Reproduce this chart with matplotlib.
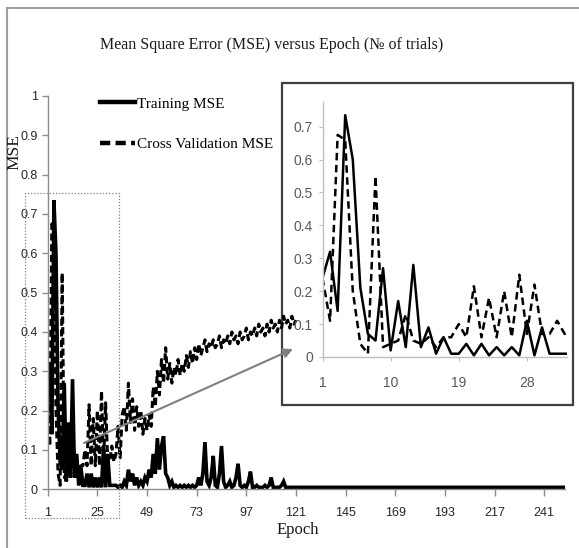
import numpy as np
import matplotlib
matplotlib.use('Agg')
import matplotlib.pyplot as plt
from matplotlib.patches import Rectangle, FancyArrowPatch
from matplotlib.lines import Line2D

# ---------------- data ----------------
title = "Mean Square Error (MSE) versus Epoch (\u2116 of trials)"
series_names = ["Training MSE", "Cross Validation MSE"]
x_tick_labels = ["1", "25", "49", "73", "97", "121", "145", "169", "193", "217", "241"]
y_tick_labels = ["0", "0.1", "0.2", "0.3", "0.4", "0.5", "0.6", "0.7", "0.8", "0.9", "1"]
inset_x_tick_labels = ["1", "10", "19", "28"]
inset_y_tick_labels = ["0", "0.1", "0.2", "0.3", "0.4", "0.5", "0.6", "0.7"]

training_mse = [
    0.24, 0.32, 0.14, 0.735, 0.60, 0.21, 0.07, 0.05, 0.27, 0.02,
    0.17, 0.03, 0.28, 0.03, 0.09, 0.01, 0.06, 0.01, 0.01, 0.04,
    0.005, 0.04, 0.005, 0.03, 0.005, 0.03, 0.005, 0.11, 0.005, 0.09,
    0.01, 0.01, 0.01,
    0.01, 0.005, 0.01, 0.005, 0.02, 0.01, 0.05, 0.02, 0.04, 0.01,
    0.03, 0.01, 0.02, 0.01, 0.03, 0.02, 0.05, 0.03, 0.09, 0.04,
    0.13, 0.05, 0.11, 0.135, 0.04, 0.03, 0.01, 0.02, 0.005, 0.01,
    0.005, 0.01, 0.005, 0.01, 0.005, 0.01, 0.005, 0.01, 0.005, 0.01,
    0.03, 0.01, 0.04, 0.12, 0.02, 0.01, 0.03, 0.085, 0.01, 0.005,
    0.04, 0.11, 0.02, 0.005, 0.01, 0.02, 0.005, 0.01, 0.03, 0.065,
    0.01, 0.005, 0.01, 0.005, 0.02, 0.045, 0.005, 0.005, 0.01, 0.005,
    0.005, 0.005, 0.01, 0.005, 0.01, 0.03, 0.005, 0.005, 0.005, 0.005,
    0.01, 0.02, 0.005,
    0.005, 0.005, 0.005, 0.005, 0.005, 0.005, 0.005, 0.005, 0.005, 0.005, 0.005, 0.005, 0.005, 0.005, 0.005,
    0.005, 0.005, 0.005, 0.005, 0.005, 0.005, 0.005, 0.005, 0.005, 0.005, 0.005, 0.005, 0.005, 0.005, 0.005,
    0.005, 0.005, 0.005, 0.005, 0.005, 0.005, 0.005, 0.005, 0.005, 0.005, 0.005, 0.005, 0.005, 0.005, 0.005,
    0.005, 0.005, 0.005, 0.005, 0.005, 0.005, 0.005, 0.005, 0.005, 0.005, 0.005, 0.005, 0.005, 0.005, 0.005,
    0.005, 0.005, 0.005, 0.005, 0.005, 0.005, 0.005, 0.005, 0.005, 0.005, 0.005, 0.005, 0.005, 0.005, 0.005,
    0.005, 0.005, 0.005, 0.005, 0.005, 0.005, 0.005, 0.005, 0.005, 0.005, 0.005, 0.005, 0.005, 0.005, 0.005,
    0.005, 0.005, 0.005, 0.005, 0.005, 0.005, 0.005, 0.005, 0.005, 0.005, 0.005, 0.005, 0.005, 0.005, 0.005,
    0.005, 0.005, 0.005, 0.005, 0.005, 0.005, 0.005, 0.005, 0.005, 0.005, 0.005, 0.005, 0.005, 0.005, 0.005,
    0.005, 0.005, 0.005, 0.005, 0.005, 0.005, 0.005, 0.005, 0.005, 0.005, 0.005, 0.005, 0.005, 0.005, 0.005,
]

cross_validation_mse = [
    0.24, 0.11, 0.675, 0.66, 0.20, 0.04, 0.01, 0.55, 0.03, 0.04,
    0.05, 0.13, 0.05, 0.04, 0.06, 0.03, 0.06, 0.06, 0.10, 0.06,
    0.215, 0.06, 0.18, 0.06, 0.20, 0.06, 0.25, 0.07, 0.22, 0.07,
    0.07, 0.11, 0.07,
    0.09, 0.16, 0.08, 0.19, 0.21, 0.15, 0.27, 0.17, 0.23, 0.15,
    0.21, 0.16, 0.20, 0.14, 0.18, 0.15, 0.19, 0.16, 0.26, 0.21,
    0.30, 0.24, 0.33, 0.27, 0.36, 0.28, 0.32, 0.27, 0.31, 0.29,
    0.33, 0.29, 0.32, 0.30, 0.34, 0.31, 0.35, 0.32, 0.36, 0.33,
    0.37, 0.34, 0.36, 0.38, 0.35, 0.37, 0.36, 0.38, 0.36, 0.37,
    0.39, 0.36, 0.38, 0.37, 0.39, 0.37, 0.40, 0.38, 0.39, 0.37,
    0.40, 0.38, 0.39, 0.41, 0.38, 0.40, 0.39, 0.41, 0.39, 0.42,
    0.40, 0.41, 0.39, 0.42, 0.40, 0.43, 0.41, 0.42, 0.40, 0.43,
    0.41, 0.44, 0.42, 0.43, 0.41, 0.44, 0.42, 0.43,
]

inset_epochs_shown = 34

# ---------------- layout helpers (pixels -> figure fraction) ----------------
W, H = 579, 548
fig = plt.figure(figsize=(W / 100, H / 100), dpi=100)
fig.patch.set_facecolor('white')


def fx(x):
    return x / W


def fy(y):
    return 1 - y / H


SERIF = ['Liberation Serif', 'DejaVu Serif']
NARROW = ['Liberation Sans Narrow', 'Liberation Sans', 'DejaVu Sans']

# outer frame (top and left edges visible)
fig.add_artist(Line2D([fx(7), fx(7)], [fy(8), 0], color='#a0a0a0', lw=1.5))
fig.add_artist(Line2D([fx(7), 1], [fy(8), fy(8)], color='#a0a0a0', lw=1.5))

fig.text(fx(272), fy(45), title, ha='center', va='center', family=SERIF,
         fontsize=11.5, color='#1a1a1a')

# white inset frame (drawn below main axes)
box = Rectangle((fx(282), fy(405)), fx(573) - fx(282), fy(83) - fy(405),
                transform=fig.transFigure, facecolor='white',
                edgecolor='#404040', lw=1.6, zorder=-1)
fig.add_artist(box)

# ---------------- main axes ----------------
ax = fig.add_axes([fx(47.7), fy(489.3), fx(565) - fx(47.7), fy(96) - fy(489.3)])
ax.set_facecolor('none')
ep_tr = np.arange(1, len(training_mse) + 1)
ep_cv = np.arange(1, len(cross_validation_mse) + 1)
l_tr, = ax.plot(ep_tr, training_mse, color='black', lw=2.6,
                solid_joinstyle='miter', label=series_names[0])
l_cv, = ax.plot(ep_cv, cross_validation_mse, color='black', lw=2.2,
                linestyle=(0, (2.3, 1.2)), label=series_names[1])
ax.set_xlim(1, 251)
ax.set_ylim(0, 1)
ax.set_xticks([int(t) for t in x_tick_labels])
ax.set_xticklabels(x_tick_labels)
ax.set_yticks([float(t) for t in y_tick_labels])
ax.set_yticklabels(y_tick_labels)
for s in ['top', 'right']:
    ax.spines[s].set_visible(False)
for s in ['left', 'bottom']:
    ax.spines[s].set_color('#8c8c8c')
    ax.spines[s].set_linewidth(1.0)
ax.tick_params(axis='y', direction='out', length=4, width=1, color='#8c8c8c',
               pad=3, labelsize=9, labelcolor='#262626')
ax.tick_params(axis='x', direction='out', length=5, width=1, color='#8c8c8c',
               pad=8, labelsize=9, labelcolor='#262626')
for lab in ax.get_xticklabels() + ax.get_yticklabels():
    lab.set_family(NARROW)

leg = ax.legend(handles=[l_tr, l_cv], loc='upper left',
                bbox_to_anchor=(fx(100), fy(97)), bbox_transform=fig.transFigure,
                frameon=False, borderpad=0, borderaxespad=0,
                handlelength=2.3, handletextpad=0.1, labelspacing=1.75,
                prop={'family': SERIF, 'size': 11})
for ln in leg.get_lines():
    ln.set_linewidth(3.2)

fig.text(fx(14), fy(152), 'MSE', rotation=90, ha='center', va='center',
         family=SERIF, fontsize=12.5, color='#1a1a1a')
fig.text(fx(298), fy(530), 'Epoch', ha='center', va='center',
         family=SERIF, fontsize=12, color='#1a1a1a')

# ---------------- inset axes ----------------
axin = fig.add_axes([fx(322.5), fy(357), fx(567) - fx(322.5), fy(102) - fy(357)])
axin.set_zorder(3)
axin.set_facecolor('none')
ep_in = np.arange(1, inset_epochs_shown + 1)
axin.plot(ep_in, training_mse[:inset_epochs_shown], color='black', lw=1.8)
axin.plot(ep_in, cross_validation_mse[:inset_epochs_shown], color='black',
          lw=1.8, linestyle=(0, (3, 1.8)))
axin.set_xlim(1, 33.3)
axin.set_ylim(0, 0.775)
axin.set_xticks([int(t) for t in inset_x_tick_labels])
axin.set_xticklabels(inset_x_tick_labels)
axin.set_yticks([float(t) for t in inset_y_tick_labels])
axin.set_yticklabels(inset_y_tick_labels)
for s in ['top', 'right']:
    axin.spines[s].set_visible(False)
for s in ['left', 'bottom']:
    axin.spines[s].set_color('#bfbfbf')
    axin.spines[s].set_linewidth(1.0)
axin.tick_params(axis='y', direction='out', length=3, color='#bfbfbf', pad=4,
                 labelsize=10, labelcolor='#595959')
axin.tick_params(axis='x', direction='out', length=3, color='#bfbfbf', pad=11,
                 labelsize=10, labelcolor='#595959')
for lab in axin.get_xticklabels() + axin.get_yticklabels():
    lab.set_family(NARROW)

# ---------------- zoom rectangle and arrow ----------------
zr = Rectangle((fx(25), fy(518)), fx(119) - fx(25), fy(193) - fy(518),
               transform=fig.transFigure, facecolor='none', edgecolor='#7f7f7f',
               lw=0.9, linestyle=(0, (1, 1.5)), zorder=5)
fig.add_artist(zr)
arr = FancyArrowPatch((fx(84), fy(443)), (fx(293), fy(349)),
                      transform=fig.transFigure, arrowstyle='-|>',
                      mutation_scale=14, color='#808080', lw=1.5,
                      shrinkA=0, shrinkB=0, zorder=5)
fig.add_artist(arr)

fig.savefig('out.png', dpi=100, facecolor='white')
